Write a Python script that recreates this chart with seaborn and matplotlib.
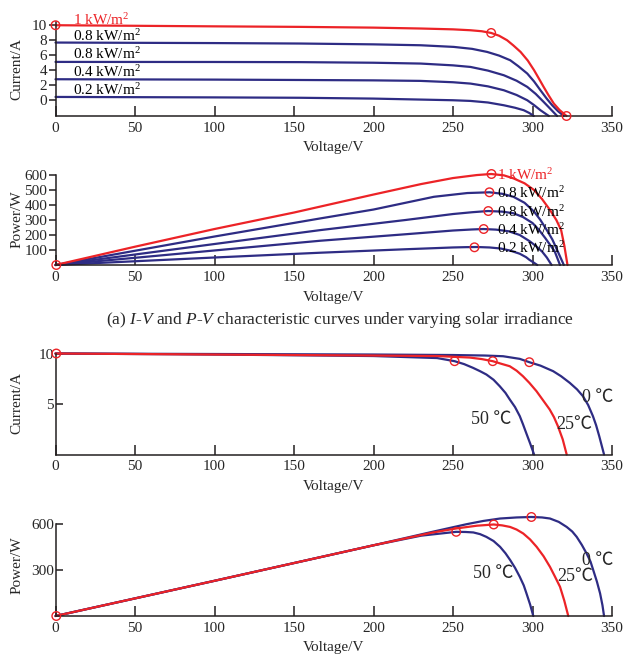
import matplotlib
matplotlib.use("Agg")
import matplotlib.pyplot as plt
import seaborn as sns

# ── Data ──────────────────────────────────────────────────
# (a) I-V under varying irradiance (values in the y-tick units of the figure)
IRR_LABELS = ["1 kW/m$^2$", "0.8 kW/m$^2$", "0.8 kW/m$^2$", "0.4 kW/m$^2$", "0.2 kW/m$^2$"]

iv_v_10 = [0, 100, 154, 200, 230, 250, 261, 268, 274, 279, 284, 288, 292.5, 297, 301, 304, 307, 310, 313.4, 317, 321.4]
iv_i_10 = [10, 9.85, 9.78, 9.68, 9.56, 9.45, 9.33, 9.2, 8.97, 8.6, 8.0, 7.3, 6.44, 5.3, 4.0, 2.9, 1.78, 0.7, -0.44, -1.3, -2.1]
iv_v_08 = [0, 100, 154, 200, 229.6, 250.5, 262, 271.5, 279, 286, 291, 296.7, 301, 305, 309, 312.4, 316, 319.7]
iv_i_08 = [7.69, 7.62, 7.56, 7.45, 7.33, 7.11, 6.85, 6.44, 5.95, 5.33, 4.55, 3.56, 2.5, 1.33, 0.2, -0.67, -1.45, -2.1]
iv_v_06 = [0, 100, 154, 200, 229.6, 250, 261, 272, 282, 290, 296.7, 302, 307, 311, 315.5]
iv_i_06 = [5.11, 5.1, 5.08, 5.0, 4.89, 4.65, 4.44, 3.95, 3.33, 2.6, 1.78, 0.85, -0.22, -1.1, -2.1]
iv_v_04 = [0, 100, 154, 200, 229.6, 250, 261, 272, 282, 290, 296.7, 301, 305, 310.3]
iv_i_04 = [2.8, 2.75, 2.7, 2.65, 2.58, 2.4, 2.22, 1.85, 1.33, 0.7, 0, -0.65, -1.33, -2.1]
iv_v_02 = [0, 100, 154, 200, 229.6, 250, 261, 272, 282, 289, 294.5, 298, 300.8]
iv_i_02 = [0.44, 0.38, 0.33, 0.22, 0.09, 0, -0.09, -0.3, -0.67, -1.0, -1.33, -1.7, -2.1]

# (a) P-V under varying irradiance
pv_v_10 = [0, 50, 100, 150, 200, 230, 250, 265, 274, 282, 288, 295, 301, 306, 311, 315, 318, 320, 322]
pv_p_10 = [0, 122, 240, 350, 470, 540, 580, 600, 607, 598, 578, 545, 500, 440, 367, 300, 233, 130, 0]
pv_v_08 = [0, 50, 100, 166.7, 200, 238, 259, 273, 281, 288, 295, 301, 305, 309, 312.5, 315.5, 319.7]
pv_p_08 = [0, 95, 190, 311, 370, 455, 480, 485, 475, 455, 415, 356, 300, 233, 170, 100, 0]
pv_v_06 = [0, 50, 100, 166.7, 220, 250, 262, 272, 281, 288, 294, 300, 304, 308, 311, 314, 317.3]
pv_p_06 = [0, 70, 140, 233, 300, 340, 352, 360, 356, 345, 320, 280, 235, 180, 135, 90, 0]
pv_v_04 = [0, 50, 100, 166.7, 220, 250, 262, 269, 277, 285, 292, 298, 302, 306, 309, 312]
pv_p_04 = [0, 48, 97, 162, 205, 230, 237, 240, 236, 225, 200, 160, 128, 90, 50, 0]
pv_v_02 = [0, 50, 100, 166.7, 220, 250, 258, 265, 273, 280, 286, 292, 296, 298, 300.5, 303]
pv_p_02 = [0, 25, 50, 82, 105, 117, 119, 120, 117, 110, 96, 75, 52, 35, 18, 0]

iv_mpp_v = [0, 274, 321.4]
iv_mpp_i = [10, 8.97, -2.1]
iv_lab_i = [10.75, 8.55, 6.1, 3.8, 1.35]
pv_mpp_v = [0.5, 274.2, 272.9, 272.2, 269.3, 263.5]
pv_mpp_p = [0, 607, 485, 360, 240, 118]
pv_lab_p = [600, 478, 355, 233, 111]

# (b) I-V / P-V under varying temperature
TEMP_LABELS = ["0 ℃", "25℃", "50 ℃"]
ivt_v_0 = [0, 100, 200, 250, 270, 281.5, 292, 298, 305, 313, 318, 323.4, 328, 331.7, 335, 338, 340, 342, 343.5, 345]
ivt_i_0 = [10, 9.95, 9.9, 9.85, 9.8, 9.73, 9.47, 9.14, 8.8, 8.25, 7.75, 7.1, 6.45, 5.78, 4.9, 3.8, 2.9, 1.8, 0.9, 0]
ivt_v_25 = [0, 100, 200, 240, 260.5, 268, 275, 280, 285.7, 290, 294, 298, 302.5, 306.5, 310.8, 313.5, 316, 319, 321.5]
ivt_i_25 = [10, 9.9, 9.8, 9.75, 9.6, 9.45, 9.24, 9.0, 8.74, 8.3, 7.75, 7.1, 6.27, 5.4, 4.46, 3.7, 2.8, 1.5, 0]
ivt_v_50 = [0, 100, 200, 240, 251, 257, 262.6, 267, 271, 275.5, 279.4, 283, 285.7, 289, 292, 294, 296, 298.5, 301]
ivt_i_50 = [10, 9.9, 9.75, 9.55, 9.24, 8.95, 8.58, 8.25, 7.92, 7.4, 6.76, 6.1, 5.45, 4.7, 3.8, 3.0, 2.15, 1.1, 0]
ivt_mpp_v = [0.5, 251, 275, 298]
ivt_mpp_i = [10, 9.24, 9.24, 9.14]
ivt_lab_xy = [(341, 5.6), (326.5, 2.97), (274, 3.47)]

pvt_v_0 = [0, 100, 200, 237, 258.6, 269, 279.6, 290, 299.3, 306, 311, 316.5, 321.5, 325, 327.8, 331, 334, 336.5, 338.2, 340.5, 342.5, 344, 345]
pvt_p_0 = [0, 230, 462, 550, 600, 621, 637, 644, 647, 644, 637, 615, 582, 552, 517, 465, 409, 355, 300, 225, 148, 70, 0]
pvt_v_25 = [0, 100, 200, 237, 252, 265, 275.6, 281, 285.9, 290, 294.2, 298.5, 302.6, 307, 311, 314, 317.3, 320, 322.5]
pvt_p_25 = [0, 230, 462, 545, 572, 590, 598, 592, 582, 565, 539, 500, 452, 390, 321, 260, 191, 100, 0]
pvt_v_50 = [0, 100, 200, 230, 252, 258, 262.8, 267, 271, 275.5, 279.6, 283, 286, 289, 292, 294.5, 296.2, 298.5, 300.5]
pvt_p_50 = [0, 230, 462, 525, 550, 549, 546, 535, 517, 490, 452, 410, 365, 315, 256, 200, 148, 75, 0]
pvt_mpp_v = [0.5, 252, 275.6, 299.3]
pvt_mpp_p = [0, 550, 598, 647]
pvt_lab_xy = [(341, 365), (326.7, 256), (275, 278)]

# ── Style ─────────────────────────────────────────────────
sns.set_style("ticks")
plt.rcParams["font.family"] = ["Liberation Serif", "Noto Sans CJK SC"]
plt.rcParams["mathtext.fontset"] = "custom"
plt.rcParams["mathtext.rm"] = "Liberation Serif"
plt.rcParams["mathtext.it"] = "Liberation Serif:italic"
RED = "#EC2327"
BLUE = "#2E2C84"
INK = "#231F20"
FS = 11
LW = 1.6

fig = plt.figure(figsize=(6.27, 6.57), dpi=100)
W, H = 627.0, 657.0


def make_ax(x0, y_axis, h_px):
    return fig.add_axes([x0 / W, (H - y_axis) / H, (612 - x0) / W, h_px / H])


def style(ax, ymin, ymax, ybounds, yticks, yticklabels, ytick_dir, ylabel):
    ax.set_xlim(0, 350)
    ax.set_ylim(ymin, ymax)
    ax.set_xticks(range(0, 351, 50))
    ax.set_yticks(yticks)
    ax.set_yticklabels(yticklabels)
    for s in ["top", "right"]:
        ax.spines[s].set_visible(False)
    for s in ["left", "bottom"]:
        ax.spines[s].set_color(INK)
        ax.spines[s].set_linewidth(1.1)
    ax.spines["left"].set_bounds(*ybounds)
    ax.tick_params(axis="x", direction="in", length=7, width=1.1, color=INK,
                   labelsize=FS, pad=4)
    ax.tick_params(axis="y", direction=ytick_dir, length=5, width=1.1, color=INK,
                   labelsize=FS, pad=1)
    ax.set_xlabel("Voltage/V", fontsize=FS, labelpad=5)
    ax.set_ylabel(ylabel, fontsize=FS, labelpad=2)
    ax.yaxis.set_label_coords(-0.057, 0.5)


def line(ax, v, y, color):
    sns.lineplot(x=v, y=y, ax=ax, color=color, lw=LW, estimator=None, sort=False,
                 clip_on=False)


def circles(ax, v, y):
    sns.scatterplot(x=v, y=y, ax=ax, marker="o", s=38, facecolor="none",
                    edgecolor=RED, linewidth=1.0, zorder=5, clip_on=False)


# ── Panel 1: I-V, irradiance ──────────────────────────────
ax1 = make_ax(55.5, 116, 94)
style(ax1, -2.1, 10.43, (-2.1, 10.43), range(0, 11, 2),
      [str(t) for t in range(0, 11, 2)], "out", "Current/A")
for v, i in [(iv_v_02, iv_i_02), (iv_v_04, iv_i_04), (iv_v_06, iv_i_06), (iv_v_08, iv_i_08)]:
    line(ax1, v, i, BLUE)
line(ax1, iv_v_10, iv_i_10, RED)
circles(ax1, iv_mpp_v, iv_mpp_i)
for lab, yv in zip(IRR_LABELS, iv_lab_i):
    ax1.text(11, yv, lab, fontsize=FS, color=RED if lab.startswith("1 ") else "black",
             ha="left", va="center")

# ── Panel 2: P-V, irradiance ──────────────────────────────
ax2 = make_ax(55.5, 265, 92.5)
style(ax2, 0, 617, (0, 600), range(100, 601, 100),
      [str(t) for t in range(100, 601, 100)], "out", "Power/W")
for v, p in [(pv_v_02, pv_p_02), (pv_v_04, pv_p_04), (pv_v_06, pv_p_06), (pv_v_08, pv_p_08)]:
    line(ax2, v, p, BLUE)
line(ax2, pv_v_10, pv_p_10, RED)
circles(ax2, pv_mpp_v, pv_mpp_p)
for lab, yv in zip(IRR_LABELS, pv_lab_p):
    ax2.text(277.5, yv, lab, fontsize=FS, color=RED if lab.startswith("1 ") else "black",
             ha="left", va="center")

fig.text(340 / W, 1 - 320 / H,
         r"(a) $\mathit{I}$-$\mathit{V}$ and $\mathit{P}$-$\mathit{V}$ characteristic "
         r"curves under varying solar irradiance",
         fontsize=12.5, ha="center", va="center")

# ── Panel 3: I-V, temperature ─────────────────────────────
ax3 = make_ax(55.5, 454.5, 102)
style(ax3, 0, 10.1, (0, 10), [5, 10], ["5", "10"], "in", "Current/A")
line(ax3, ivt_v_0, ivt_i_0, BLUE)
line(ax3, ivt_v_50, ivt_i_50, BLUE)
line(ax3, ivt_v_25, ivt_i_25, RED)
circles(ax3, ivt_mpp_v, ivt_mpp_i)
for lab, (xv, yv) in zip(TEMP_LABELS, ivt_lab_xy):
    ax3.text(xv, yv, lab, fontsize=13, ha="center", va="center")

# ── Panel 4: P-V, temperature ─────────────────────────────
ax4 = make_ax(55.5, 616, 101)
style(ax4, 0, 660, (0, 600), [300, 600], ["300", "600"], "in", "Power/W")
line(ax4, pvt_v_0, pvt_p_0, BLUE)
line(ax4, pvt_v_50, pvt_p_50, BLUE)
line(ax4, pvt_v_25, pvt_p_25, RED)
circles(ax4, pvt_mpp_v, pvt_mpp_p)
for lab, (xv, yv) in zip(TEMP_LABELS, pvt_lab_xy):
    ax4.text(xv, yv, lab, fontsize=13, ha="center", va="center")

for ax in (ax1, ax2, ax3, ax4):
    leg = ax.get_legend()
    if leg is not None:
        leg.remove()

fig.savefig("out.png", dpi=100)
